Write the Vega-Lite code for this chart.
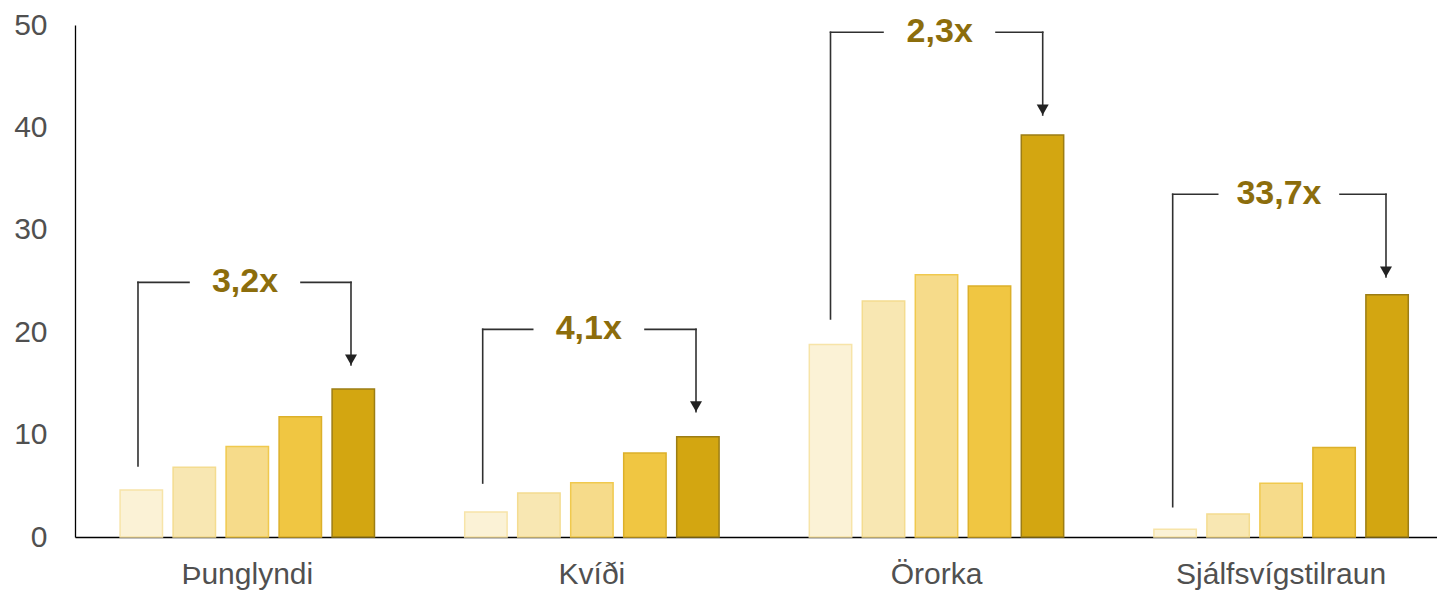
{
  "$schema": "https://vega.github.io/schema/vega-lite/v6.json",
  "width": 1362,
  "height": 512,
  "autosize": {"type": "none"},
  "padding": {"left": 75, "top": 25, "right": 0, "bottom": 53},
  "background": "white",
  "config": {
    "view": {"stroke": null},
    "font": "Liberation Sans"
  },
  "datasets": {
    "bars": [
      {"flokkur": "Þunglyndi", "hopur": "1", "gildi": 4.6},
      {"flokkur": "Þunglyndi", "hopur": "2", "gildi": 6.8},
      {"flokkur": "Þunglyndi", "hopur": "3", "gildi": 8.85},
      {"flokkur": "Þunglyndi", "hopur": "4", "gildi": 11.75},
      {"flokkur": "Þunglyndi", "hopur": "5", "gildi": 14.45},
      {"flokkur": "Kvíði", "hopur": "1", "gildi": 2.45},
      {"flokkur": "Kvíði", "hopur": "2", "gildi": 4.3},
      {"flokkur": "Kvíði", "hopur": "3", "gildi": 5.3},
      {"flokkur": "Kvíði", "hopur": "4", "gildi": 8.2},
      {"flokkur": "Kvíði", "hopur": "5", "gildi": 9.8},
      {"flokkur": "Örorka", "hopur": "1", "gildi": 18.8},
      {"flokkur": "Örorka", "hopur": "2", "gildi": 23.05},
      {"flokkur": "Örorka", "hopur": "3", "gildi": 25.6},
      {"flokkur": "Örorka", "hopur": "4", "gildi": 24.5},
      {"flokkur": "Örorka", "hopur": "5", "gildi": 39.25},
      {"flokkur": "Sjálfsvígstilraun", "hopur": "1", "gildi": 0.75},
      {"flokkur": "Sjálfsvígstilraun", "hopur": "2", "gildi": 2.25},
      {"flokkur": "Sjálfsvígstilraun", "hopur": "3", "gildi": 5.25},
      {"flokkur": "Sjálfsvígstilraun", "hopur": "4", "gildi": 8.75},
      {"flokkur": "Sjálfsvígstilraun", "hopur": "5", "gildi": 23.65}
    ],
    "notes": [
      {"flokkur": "Þunglyndi", "label": "3,2x", "L": 0.1828, "R": 0.8009, "gL": 0.3308, "gR": 0.6558, "lx": 0.4933, "yl": 24.87, "yb": 6.93, "tip": 16.8},
      {"flokkur": "Kvíði", "label": "4,1x", "L": 1.1831, "R": 1.8021, "gL": 1.3282, "gR": 1.6541, "lx": 1.491, "yl": 20.28, "yb": 5.27, "tip": 12.24},
      {"flokkur": "Örorka", "label": "2,3x", "L": 2.1924, "R": 2.8082, "gL": 2.3448, "gR": 2.6727, "lx": 2.5093, "yl": 49.29, "yb": 21.29, "tip": 41.21},
      {"flokkur": "Sjálfsvígstilraun", "label": "33,7x", "L": 3.1854, "R": 3.8044, "gL": 3.316, "gR": 3.6709, "lx": 3.4939, "yl": 33.47, "yb": 2.96, "tip": 25.39}
    ]
  },
  "layer": [
    {
      "data": {"name": "bars"},
      "mark": {"type": "bar", "strokeWidth": 1.5},
      "encoding": {
        "x": {
          "field": "flokkur",
          "type": "nominal",
          "sort": ["Þunglyndi", "Kvíði", "Örorka", "Sjálfsvígstilraun"],
          "scale": {"paddingInner": 0.2618, "paddingOuter": 0.1071, "align": 0.611},
          "axis": {
            "title": null,
            "labelAngle": 0,
            "labelFontSize": 30,
            "labelColor": "#505050",
            "labelPadding": 22,
            "labelLimit": 0,
            "ticks": false,
            "domainColor": "#000000",
            "domainWidth": 1.5,
            "grid": false
          }
        },
        "xOffset": {
          "field": "hopur",
          "type": "nominal",
          "scale": {"paddingInner": 0.2, "paddingOuter": 0}
        },
        "y": {
          "field": "gildi",
          "type": "quantitative",
          "scale": {"domain": [0, 50], "nice": false},
          "axis": {
            "title": null,
            "values": [0, 10, 20, 30, 40, 50],
            "labelFontSize": 30,
            "labelColor": "#505050",
            "labelPadding": 28,
            "ticks": false,
            "grid": false,
            "domainColor": "#000000",
            "domainWidth": 1.3
          }
        },
        "fill": {
          "field": "hopur",
          "type": "nominal",
          "scale": {"domain": ["1", "2", "3", "4", "5"], "range": ["#FBF2D6", "#F8E7B2", "#F6DB8A", "#F0C642", "#D3A611"]},
          "legend": null
        },
        "stroke": {
          "field": "hopur",
          "type": "nominal",
          "scale": {"domain": ["1", "2", "3", "4", "5"], "range": ["#F7E4A8", "#F4DC90", "#F0C94E", "#DCB02A", "#9C7D14"]},
          "legend": null
        }
      }
    },
    {
      "data": {"name": "notes"},
      "layer": [
        {
          "mark": {"type": "rule", "color": "#303030", "strokeWidth": 1.6, "strokeCap": "square"},
          "encoding": {
            "x": {"field": "L", "type": "quantitative", "scale": {"domain": [0, 3.95241], "nice": false, "zero": false}, "axis": null},
            "y": {"field": "yb", "type": "quantitative"},
            "y2": {"field": "yl"}
          }
        },
        {
          "mark": {"type": "rule", "color": "#303030", "strokeWidth": 1.6, "strokeCap": "square"},
          "encoding": {
            "x": {"field": "L", "type": "quantitative"},
            "x2": {"field": "gL"},
            "y": {"field": "yl", "type": "quantitative"}
          }
        },
        {
          "mark": {"type": "rule", "color": "#303030", "strokeWidth": 1.6, "strokeCap": "square"},
          "encoding": {
            "x": {"field": "gR", "type": "quantitative"},
            "x2": {"field": "R"},
            "y": {"field": "yl", "type": "quantitative"}
          }
        },
        {
          "mark": {"type": "rule", "color": "#303030", "strokeWidth": 1.6, "strokeCap": "square"},
          "encoding": {
            "x": {"field": "R", "type": "quantitative"},
            "y": {"field": "yl", "type": "quantitative"},
            "y2": {"field": "tip"}
          }
        },
        {
          "mark": {"type": "point", "shape": "M-1,-1.732L1,-1.732L0,0Z", "filled": true, "size": 144, "color": "#222222", "opacity": 1},
          "encoding": {
            "x": {"field": "R", "type": "quantitative"},
            "y": {"field": "tip", "type": "quantitative"}
          }
        },
        {
          "mark": {"type": "text", "fontSize": 34, "fontWeight": "bold", "color": "#8C6D0C", "baseline": "middle", "align": "center"},
          "encoding": {
            "x": {"field": "lx", "type": "quantitative"},
            "y": {"field": "yl", "type": "quantitative"},
            "text": {"field": "label"}
          }
        }
      ]
    }
  ],
  "resolve": {"scale": {"x": "independent", "xOffset": "independent"}, "axis": {"x": "independent"}}
}
